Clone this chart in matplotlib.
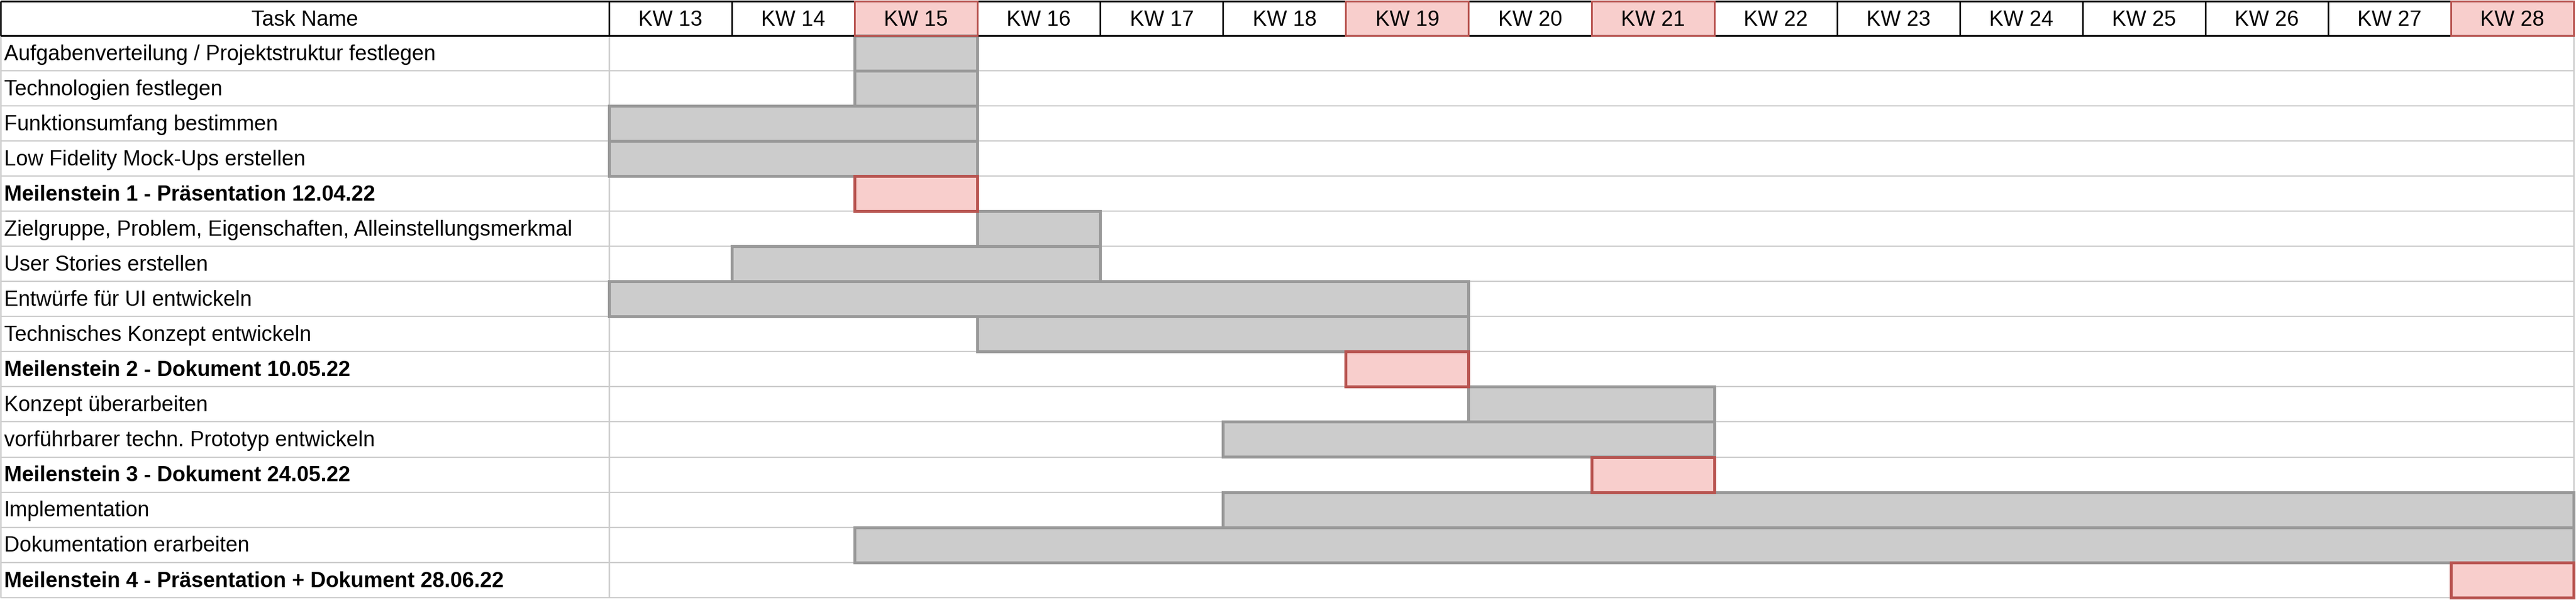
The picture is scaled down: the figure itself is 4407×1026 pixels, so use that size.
import matplotlib
matplotlib.use("Agg")
import matplotlib.pyplot as plt
from matplotlib.patches import Rectangle

plt.rcParams['font.family'] = ['Liberation Sans', 'DejaVu Sans']

# ---------------- data ----------------
tasks = [
    "Aufgabenverteilung / Projektstruktur festlegen",
    "Technologien festlegen",
    "Funktionsumfang bestimmen",
    "Low Fidelity Mock-Ups erstellen",
    "Meilenstein 1 - Präsentation 12.04.22",
    "Zielgruppe, Problem, Eigenschaften, Alleinstellungsmerkmal",
    "User Stories erstellen",
    "Entwürfe für UI entwickeln",
    "Technisches Konzept entwickeln",
    "Meilenstein 2 - Dokument 10.05.22",
    "Konzept überarbeiten",
    "vorführbarer techn. Prototyp entwickeln",
    "Meilenstein 3 - Dokument 24.05.22",
    "Implementation",
    "Dokumentation erarbeiten",
    "Meilenstein 4 - Präsentation + Dokument 28.06.22",
]
start_week = [15, 15, 13, 13, 15, 16, 14, 13, 16, 19, 20, 18, 21, 18, 15, 28]
end_week   = [15, 15, 15, 15, 15, 16, 16, 19, 19, 19, 21, 21, 21, 28, 28, 28]
is_milestone = [False, False, False, False, True, False, False, False, False, True,
                False, False, True, False, False, True]
weeks = list(range(13, 29))
week_labels = [f"KW {w}" for w in weeks]
header_name = "Task Name"

# ---------------- layout ----------------
W, H = 4407, 1026
fig = plt.figure(figsize=(W / 100, H / 100), dpi=100)
ax = fig.add_axes([0, 0, 1, 1])
ax.set_axis_off()

px_per_week = 210.07
x13_px = 1042.0
row_px = 60.0
hdr_bottom_px = 61.5
ax.set_xlim(weeks[0] - x13_px / px_per_week, weeks[0] + (W - x13_px) / px_per_week)
ax.set_ylim((H - hdr_bottom_px) / row_px, -hdr_bottom_px / row_px)

n = len(tasks)
x_left = weeks[0] - (x13_px - 1.5) / px_per_week
x_right = weeks[-1] + 1
x_name_r = weeks[0]
y_hdr_top = -(hdr_bottom_px - 2.5) / row_px

GRID = "#cccccc"
BAR_FC, BAR_EC = "#cccccc", "#999999"
MS_FC, MS_EC = "#f8cecc", "#b85450"
FS = 26.3

# row separators and verticals
for r in range(1, n + 1):
    ax.plot([x_left, x_right], [r, r], color=GRID, lw=1.6, zorder=1, solid_capstyle='butt')
for xv in (x_left, x_name_r, x_right):
    ax.plot([xv, xv], [0, n], color=GRID, lw=1.8, zorder=1, solid_capstyle='butt')

# bars
for i in range(n):
    if is_milestone[i]:
        continue
    s, e = start_week[i], end_week[i] + 1
    ax.barh(i, e - s, left=s, height=1, align='edge', color=BAR_FC,
            edgecolor=BAR_EC, linewidth=3.6, zorder=3)
for i in range(n):
    if not is_milestone[i]:
        continue
    s, e = start_week[i], end_week[i] + 1
    ax.barh(i, e - s, left=s, height=1, align='edge', color=MS_FC,
            edgecolor=MS_EC, linewidth=3.6, zorder=4)

# task labels
for i, t in enumerate(tasks):
    ax.text(x_left + 5.5 / px_per_week, i + 0.70, t, fontsize=FS,
            fontweight='bold' if is_milestone[i] else 'normal',
            ha='left', va='baseline', color='black', zorder=5)

# header
hl_weeks = [start_week[i] for i in range(n) if is_milestone[i]]
for w in weeks:
    if w in hl_weeks:
        ax.add_patch(Rectangle((w, y_hdr_top), 1, -y_hdr_top, facecolor=MS_FC,
                               edgecolor='none', zorder=2))
ax.plot([x_left, x_right], [y_hdr_top, y_hdr_top], color='black', lw=2.2, zorder=6, solid_capstyle='butt')
ax.plot([x_left, x_right], [0, 0], color='black', lw=2.3, zorder=6, solid_capstyle='butt')
for xv in [x_left, x_name_r] + [w + 1 for w in weeks]:
    ax.plot([xv, xv], [y_hdr_top, 0], color='black', lw=1.9, zorder=6, solid_capstyle='butt')
for w in weeks:
    if w in hl_weeks:
        ax.add_patch(Rectangle((w, y_hdr_top), 1, -y_hdr_top, facecolor='none',
                               edgecolor=MS_EC, linewidth=2.2, zorder=7))

hdr_base = -(hdr_bottom_px - 44) / row_px
ax.text((x_left + x_name_r) / 2, hdr_base, header_name, fontsize=FS,
        ha='center', va='baseline', zorder=8)
for w, lab in zip(weeks, week_labels):
    ax.text(w + 0.5, hdr_base, lab, fontsize=FS, ha='center', va='baseline', zorder=8)

fig.savefig("out.png", dpi=100, facecolor='white')
